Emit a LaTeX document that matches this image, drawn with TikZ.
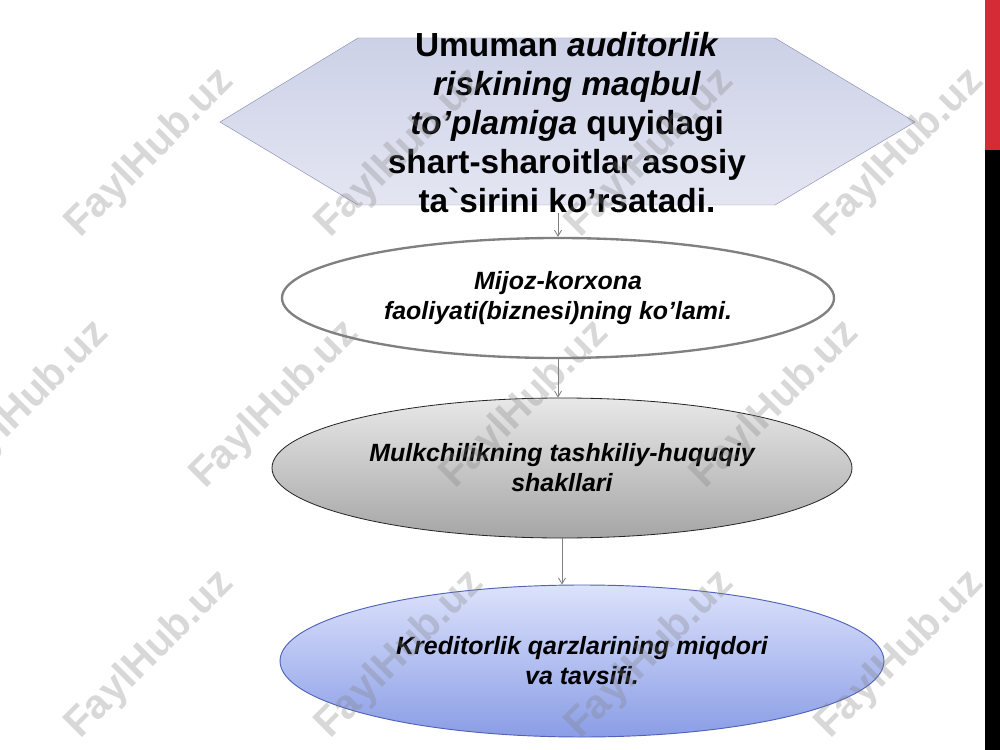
\documentclass[tikz,border=0pt]{standalone}
\usepackage{fontspec}
\setmainfont{Liberation Sans}
\usetikzlibrary{shapes.geometric,arrows.meta}
\definecolor{hexfill}{HTML}{CDD1E7}
\definecolor{hexline}{HTML}{8C91B4}
\definecolor{bluetop}{HTML}{DCE2FB}
\definecolor{bluebot}{HTML}{8A9DE6}
\definecolor{blueline}{HTML}{5063B8}
\definecolor{barred}{HTML}{D42B36}

\begin{document}
\begin{tikzpicture}[auto,
    specification/.style ={ellipse, draw, inner sep=0pt, align=center,
      font=\fontsize{21.3}{25.6}\selectfont\bfseries\itshape},
    link/.style ={-{Straight Barb[length=5pt,width=6pt]}, draw=gray, line width=0.7pt},
    wmark/.style ={rotate=45, text=gray, text opacity=0.3,
      font=\fontsize{35}{40}\selectfont\bfseries}]
   \useasboundingbox (0,0) rectangle (30,-22.5);
   \fill[white] (0,0) rectangle (30,-22.5);

   % side bar
   \fill[barred] (29.55,0) rectangle (30,-4.5);
   \fill[black] (29.55,-4.5) rectangle (30,-22.5);

   % hexagon behind the title
   \draw[hexline, top color=hexfill, bottom color=hexfill!55!white]
     (6.6,-3.66) -- (10.74,-1.14) -- (23.25,-1.14) -- (27.45,-3.66)
     -- (23.25,-6.15) -- (10.74,-6.15) -- cycle;
   \node[align=center, inner sep=0pt,
     font=\fontsize{28.5}{33.3}\selectfont\bfseries] (A) at (17.01,-3.68)
     {Umuman \textit{auditorlik}\\ \textit{riskining maqbul}\\
      \textit{to’plamiga} quyidagi\\ shart-sharoitlar asosiy\\
      ta\textasciigrave sirini ko’rsatadi.};

   \node[specification, draw=gray, line width=2pt, fill=white,
     minimum width=16.56cm, minimum height=3.6cm] (B) at (16.74,-8.94)
     {Mijoz-korxona\\ faoliyati(biznesi)ning ko’lami.};
   \node[specification, draw=black!85, line width=0.7pt,
     top color=black!9, bottom color=black!35,
     minimum width=17.4cm, minimum height=4.2cm] (C) at (16.86,-14.04)
     {Mulkchilikning tashkiliy-huquqiy\\ shakllari};
   \node[specification, draw=blueline, line width=0.8pt,
     top color=bluetop, bottom color=bluebot,
     minimum width=18.12cm, minimum height=4.56cm] (D) at (17.46,-19.83)
     {Kreditorlik qarzlarining miqdori\\ va tavsifi.};

   \draw[link] (B.north |- A.south) to (B.north);
   \draw[link] (B.south) to (B.south |- C.north);
   \draw[link] (C.south) to (C.south |- D.north);

   % watermark
   \foreach \x/\y [count=\i] in {4.5/-4.6, 12/-4.6, 19.5/-4.6, 27/-4.6,
       0.75/-12.15, 8.25/-12.15, 15.75/-12.15, 23.25/-12.15,
       4.5/-19.65, 12/-19.65, 19.5/-19.65, 27/-19.65}
     \node[wmark] (W\i) at (\x,\y) {FaylHub.uz};
 \end{tikzpicture}
\end{document}
